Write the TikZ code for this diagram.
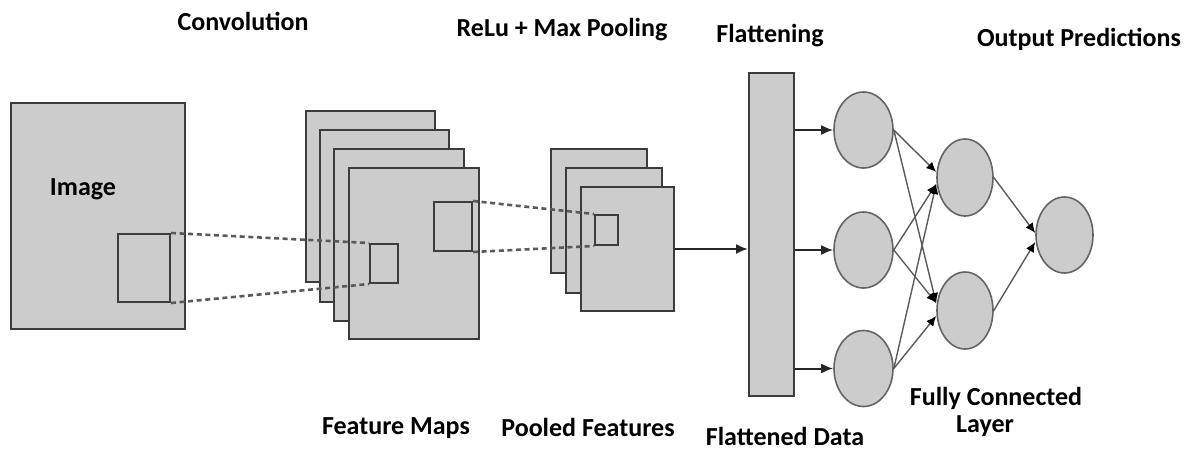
\documentclass[tikz,border=0pt]{standalone}
\usepackage{fontspec}
\setmainfont{Carlito}
\usetikzlibrary{arrows.meta,shapes.geometric,fit,calc}
\definecolor{boxgray}{RGB}{204,204,204}
\definecolor{linegray}{RGB}{60,60,60}
\definecolor{circgray}{RGB}{100,100,100}
\definecolor{dashgray}{RGB}{90,90,90}
\definecolor{edgegray}{RGB}{90,90,90}
\begin{document}
\begin{tikzpicture}[x=0.5pt,y=-0.5pt,
  sheet/.style={draw=linegray, fill=boxgray, line width=1pt, inner sep=0pt},
  win/.style={draw=linegray, line width=1pt, inner sep=0pt},
  neuron/.style={ellipse, draw=circgray, fill=boxgray, line width=0.8pt, inner sep=0pt},
  lbl/.style={font=\fontsize{13}{15}\selectfont\bfseries, inner sep=0pt, anchor=base},
  dotline/.style={draw=dashgray, line width=1.3pt, dash pattern=on 2.5pt off 1.8pt},
  feed/.style={draw=black!85, line width=1pt, -{Latex[length=6pt,width=5pt]}},
  edge/.style={draw=edgegray, line width=0.7pt, -{Latex[length=5pt,width=4.5pt,color=black]}}
]
\useasboundingbox (0,0) rectangle (1196,450);

% input image
\node[sheet, line width=1.3pt, fit={(11,103)(185,329)}] (img) {};
\node[win, fit={(118,234)(170,302)}] (imgwin) {};

% feature maps
\node[sheet, fit={(306,111)(435,282)}] (fm1) {};
\node[sheet, fit={(320,130)(449,302)}] (fm2) {};
\node[sheet, fit={(334,149)(464,321)}] (fm3) {};
\node[sheet, fit={(349,168)(479,339)}] (fm4) {};
\node[win, fit={(370,244)(398,283)}] (fmwinA) {};
\node[win, fit={(434,202)(472,251)}] (fmwinB) {};

% pooled features
\node[sheet, fit={(551,149)(647,273)}] (pool1) {};
\node[sheet, fit={(566,168)(662,293)}] (pool2) {};
\node[sheet, fit={(581,187)(674,311)}] (pool3) {};
\node[win, fit={(595,215)(618,245)}] (poolwin) {};

% flattened bar
\node[sheet, fit={(749,73)(794,396)}] (bar) {};

% neurons
\node[neuron, minimum width=29.5pt, minimum height=38pt] (C1) at (863.5,130) {};
\node[neuron, minimum width=29.5pt, minimum height=38pt] (C2) at (863.5,250) {};
\node[neuron, minimum width=29.5pt, minimum height=38pt] (C3) at (863.5,368.5) {};
\node[neuron, minimum width=28pt, minimum height=38.5pt] (H1) at (965,177.5) {};
\node[neuron, minimum width=28pt, minimum height=38.5pt] (H2) at (965,310.5) {};
\node[neuron, minimum width=28.5pt, minimum height=38pt] (O) at (1064.5,235) {};

% dashed projections
\draw[dotline] (imgwin.north east) -- (fmwinA.north west);
\draw[dotline] (imgwin.south east) -- (fmwinA.south west);
\draw[dotline] (fmwinB.north east) -- (poolwin.north west);
\draw[dotline] (fmwinB.south east) -- (poolwin.south west);

% flow arrows
\draw[feed] (pool3.east) -- (pool3.east -| bar.west);
\draw[feed] (bar.east |- C1.west) -- (C1.west);
\draw[feed] (bar.east |- C2.west) -- (C2.west);
\draw[feed] (bar.east |- C3.west) -- (C3.west);

% fully connected edges
\coordinate (h1a) at ($(H1.west)+(0,-5.5)$);
\coordinate (h1b) at ($(H1.west)+(0,6.5)$);
\coordinate (h2a) at ($(H2.west)+(0,-7.5)$);
\coordinate (h2b) at ($(H2.west)+(0,5.5)$);
\coordinate (oa) at ($(O.west)+(0,-2)$);
\coordinate (ob) at ($(O.west)+(0,7)$);
\draw[edge] (C1.east) -- (h1a);
\draw[edge] (C1.east) -- (h2a);
\draw[edge] (C2.east) -- (h1b);
\draw[edge] (C2.east) -- (h2a);
\draw[edge] (C3.east) -- (h1b);
\draw[edge] (C3.east) -- (h2b);
\draw[edge] (H1.east) -- (oa);
\draw[edge] (H2.east) -- (ob);

% labels
\node[lbl] (tconv) at (243,30) {Convolution};
\node[lbl] (trelu) at (562,36) {ReLu + Max Pooling};
\node[lbl] (tflat) at (770,42) {Flattening};
\node[lbl] (tout) at (1079,46) {Output Predictions};
\node[lbl] (timg) at (83,195) {Image};
\node[lbl] (tfm) at (396,434) {Feature Maps};
\node[lbl] (tpool) at (588,436) {Pooled Features};
\node[lbl] (tfd) at (785,445) {Flattened Data};
\node[lbl] (tfc) at (996,405) {Fully Connected};
\node[lbl] (tlayer) at (985,432) {Layer};
\end{tikzpicture}
\end{document}
